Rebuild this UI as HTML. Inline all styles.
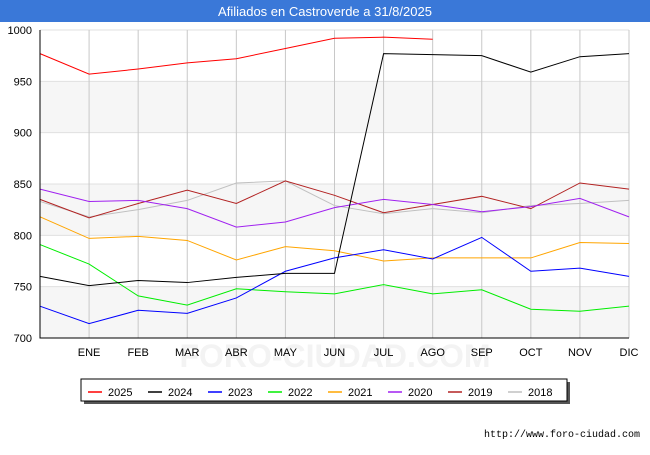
<!DOCTYPE html>
<html><head><meta charset="utf-8"><style>
body{margin:0;width:650px;height:450px;background:#fff;font-family:"Liberation Sans",sans-serif;overflow:hidden}
</style></head><body>
<svg id="c" width="650" height="450" font-family="Liberation Sans, sans-serif"></svg>
<script>
const months=["","ENE","FEB","MAR","ABR","MAY","JUN","JUL","AGO","SEP","OCT","NOV","DIC"];
const yTicks=[700,750,800,850,900,950,1000];
const seriesNames=["2025","2024","2023","2022","2021","2020","2019","2018"];
const seriesColors=["#ff0000","#000000","#0000ff","#00ee00","#ffa500","#a020f0","#b22222","#c0c0c0"];
const s2025=[977,957,962,968,972,982,992,993,991];
const s2024=[760,751,756,754,759,763,763,977,976,975,959,974,977];
const s2023=[731,714,727,724,739,765,778,786,777,798,765,768,760];
const s2022=[791,772,741,732,748,745,743,752,743,747,728,726,731];
const s2021=[818,797,799,795,776,789,785,775,778,778,778,793,792];
const s2020=[845,833,834,826,808,813,827,835,830,823,828,836,818];
const s2019=[835,817,831,844,831,853,839,822,830,838,826,851,845];
const s2018=[833,818,825,834,851,853,829,821,826,822,829,831,834];
const allSeries=[s2025,s2024,s2023,s2022,s2021,s2020,s2019,s2018];
const svg=document.getElementById('c');const NS="http://www.w3.org/2000/svg";
const X0=40,X1=629,Y0=338,Y1=30;
const xs=i=>X0+(X1-X0)*i/12;
const ys=v=>Y0-(v-700)/300*(Y0-Y1);
function mk(t,a,p){const e=document.createElementNS(NS,t);for(const k in a)e.setAttribute(k,a[k]);(p||svg).appendChild(e);return e;}
let e=mk('rect',{x:0,y:0,width:650,height:22,fill:"#3a78d8"});


e=mk('text',{x:325,y:16,'text-anchor':'middle',fill:'#fff','font-size':13});e.textContent="Afiliados en Castroverde a 31/8/2025";


[[900,950],[800,850],[700,750]].forEach(b=>{const r=mk('rect',{x:X0,y:ys(b[1]),width:X1-X0,height:ys(b[0])-ys(b[1]),fill:'#f6f6f6'});

});
e=mk('text',{x:335,y:367,'text-anchor':'middle','font-size':32,fill:'#f3f3f3','font-weight':'bold'});e.textContent="FORO-CIUDAD.COM";


yTicks.forEach(v=>{const l=mk('line',{x1:X0,x2:X1,y1:ys(v),y2:ys(v),stroke:'#e0e0e0'});


const t=mk('text',{x:X0-8,y:ys(v)+4,'text-anchor':'end','font-size':11,fill:'#000'});t.textContent=v;

});
months.forEach((m,i)=>{if(i>0){const l=mk('line',{x1:xs(i),x2:xs(i),y1:Y1,y2:Y0,stroke:'#c8c8c8'});


const t=mk('text',{x:xs(i),y:Y0+18,'text-anchor':'middle','font-size':11});t.textContent=m;

}});
for(let k=allSeries.length-1;k>=0;k--){const d=allSeries[k];
const p=mk('polyline',{points:d.map((v,i)=>xs(i)+','+ys(v)).join(' '),fill:'none',stroke:seriesColors[k],'stroke-width':1});

}
e=mk('polyline',{points:`${X0},${Y1} ${X0},${Y0} ${X1},${Y0}`,fill:'none',stroke:'#000'});


e=mk('rect',{x:84,y:382,width:486,height:22,fill:'#555'});


e=mk('rect',{x:81,y:379,width:486,height:22,fill:'#fff',stroke:'#000'});


seriesNames.forEach((n,k)=>{const x=88+k*60;
const l=mk('line',{x1:x,x2:x+14,y1:392,y2:392,stroke:seriesColors[k],'stroke-width':1.5});


const t=mk('text',{x:x+20,y:396,'font-size':11});t.textContent=n;

});
e=mk('text',{x:640,y:437,'text-anchor':'end','font-size':10,'font-family':'Liberation Mono, monospace'});e.textContent="http://www.foro-ciudad.com";


</script>
</body></html>
